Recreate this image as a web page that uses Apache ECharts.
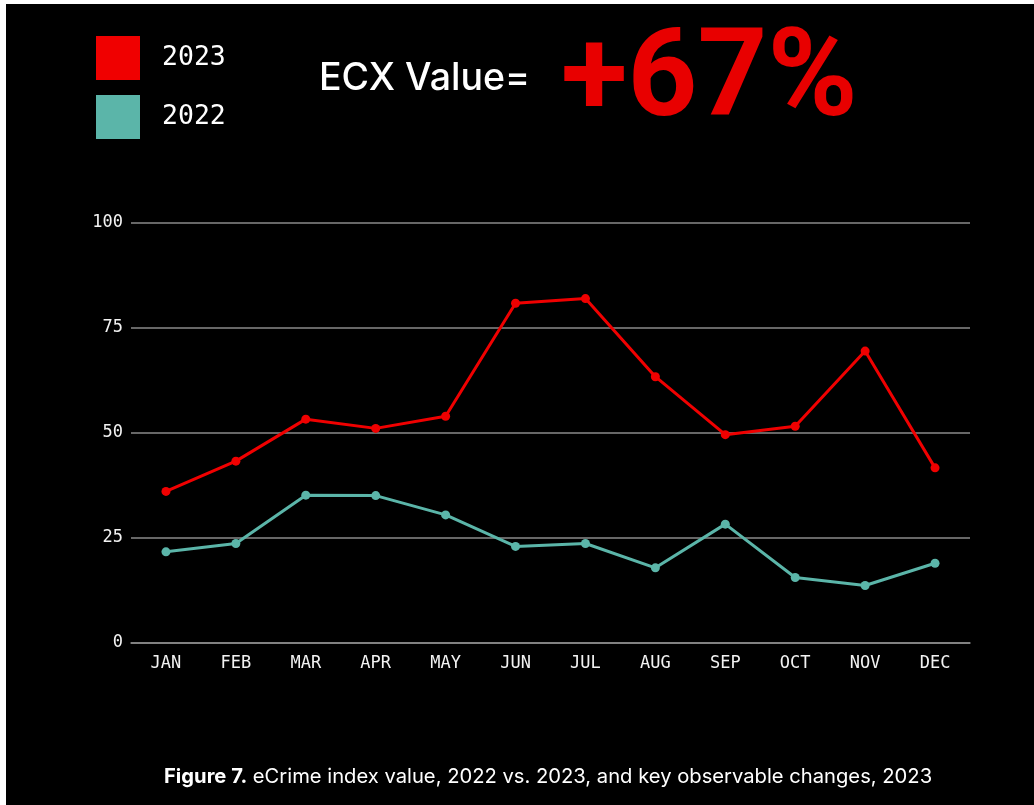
<!DOCTYPE html>
<html>
<head>
<meta charset="utf-8">
<script src="https://cdn.jsdelivr.net/npm/echarts@6/dist/echarts.min.js"></script>
<style>
html,body{margin:0;padding:0;background:#fff;}
#c{width:1034px;height:805px;}
</style>
</head>
<body>
<div id="c"></div>
<script>
const months = ['JAN','FEB','MAR','APR','MAY','JUN','JUL','AUG','SEP','OCT','NOV','DEC'];
const values2023 = [36.1, 43.3, 53.3, 51.1, 54.0, 80.9, 82.0, 63.4, 49.6, 51.6, 69.5, 41.7];
const values2022 = [21.7, 23.7, 35.2, 35.1, 30.5, 23.0, 23.7, 17.9, 28.3, 15.6, 13.7, 19.0];
const yTicks = [0, 25, 50, 75, 100];
const headline = 'ECX Value=';
const headlineValue = '+67%';
const caption = ['Figure 7.', ' eCrime index value, 2022 vs. 2023, and key observable changes, 2023'];

const RED = '#f00000';
const TEAL = '#5bb5a9';
const MONO = '"DejaVu Sans Mono", monospace';

const chart = echarts.init(document.getElementById('c'));
chart.setOption({
  backgroundColor: '#000',
  animation: false,
  graphic: [
    {type: 'rect', left: 0, top: 0, shape: {width: 1034, height: 4}, style: {fill: '#fff'}, z: 100},
    {type: 'rect', left: 0, top: 0, shape: {width: 6, height: 805}, style: {fill: '#fff'}, z: 100}
  ],
  title: [
    {text: headline, left: 314, top: 55,
     textStyle: {color: '#fff', fontFamily: 'Inter', fontWeight: 500, fontSize: 37.5}},
    {text: headlineValue, left: 556, top: 18,
     textStyle: {color: '#e80000', fontFamily: 'Roboto', fontWeight: 'bold', fontSize: 122, letterSpacing: -4}},
    {text: '{b|' + caption[0] + '}{r|' + caption[1] + '}', left: 159, top: 762,
     textStyle: {rich: {
       b: {color: '#fff', fontFamily: 'Inter', fontWeight: 'bold', fontSize: 20.2},
       r: {color: '#fff', fontFamily: 'Inter', fontWeight: 'normal', fontSize: 20.2}
     }}}
  ],
  legend: {
    orient: 'vertical', left: 91, top: 31,
    data: ['2023', '2022'],
    icon: 'rect', itemWidth: 44, itemHeight: 44, itemGap: 15,
    textStyle: {color: '#fff', fontFamily: MONO, fontSize: 26.5, padding: [10, 0, 0, 17]}
  },
  grid: {left: 131, right: 64, top: 223, bottom: 162},
  xAxis: {
    type: 'category', data: months, boundaryGap: true,
    axisLine: {show: true, lineStyle: {color: '#8a8a8a', width: 1.5}},
    axisTick: {show: false},
    axisLabel: {color: '#f2f2f2', fontFamily: MONO, fontSize: 17, margin: 12}
  },
  yAxis: {
    type: 'value', min: yTicks[0], max: yTicks[yTicks.length - 1], interval: yTicks[1] - yTicks[0],
    axisLine: {show: false}, axisTick: {show: false},
    axisLabel: {color: '#f2f2f2', fontFamily: MONO, fontSize: 17, margin: 8},
    splitLine: {lineStyle: {color: '#8a8a8a', width: 1.5}}
  },
  series: [
    {name: '2023', type: 'line', data: values2023, color: RED,
     symbol: 'circle', symbolSize: 9, lineStyle: {width: 3, color: RED}, itemStyle: {color: RED}},
    {name: '2022', type: 'line', data: values2022, color: TEAL,
     symbol: 'circle', symbolSize: 9, lineStyle: {width: 3, color: TEAL}, itemStyle: {color: TEAL}}
  ]
});
</script>
</body>
</html>
